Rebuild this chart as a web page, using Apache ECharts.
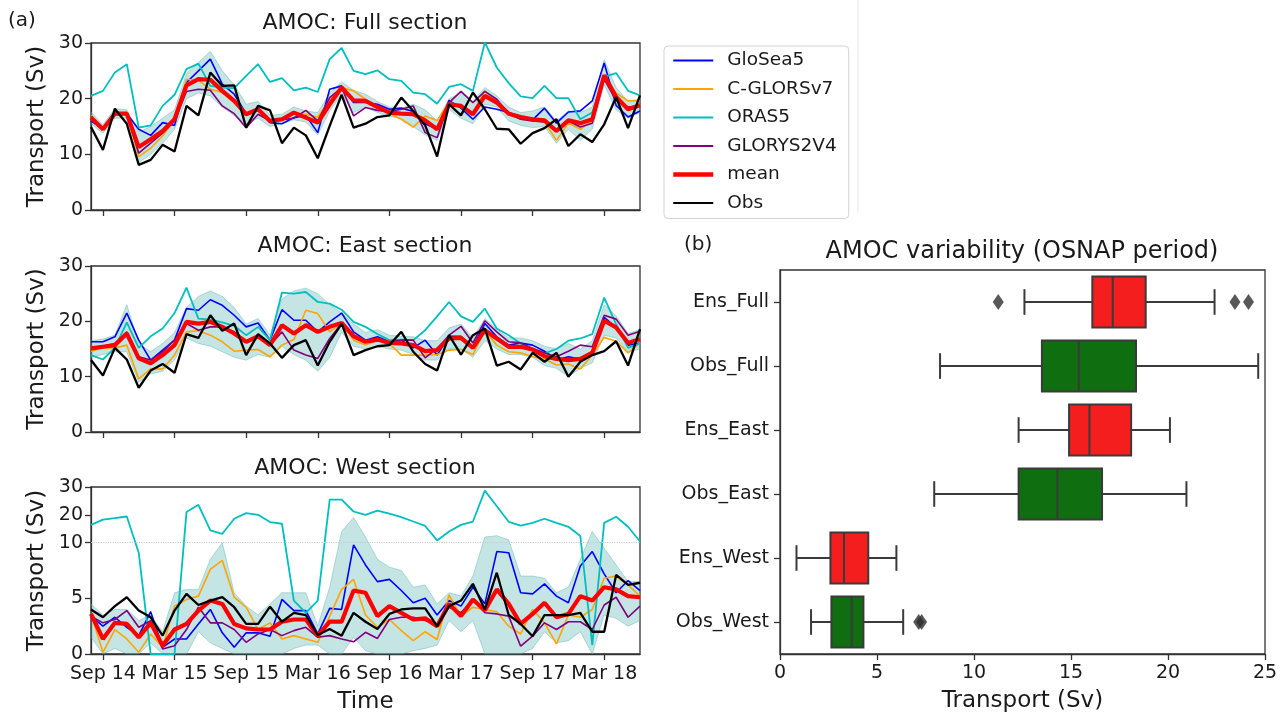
<!DOCTYPE html>
<html>
<head>
<meta charset="utf-8">
<script src="https://cdn.jsdelivr.net/npm/echarts@6/dist/echarts.min.js"></script>
<style>
html,body{margin:0;padding:0;background:#fff;}
#chart{width:1285px;height:718px;}
</style>
</head>
<body>
<div id="chart"></div>
<script>
// ---------------- Data ----------------
const months = ['Aug 14','Sep 14','Oct 14','Nov 14','Dec 14','Jan 15','Feb 15','Mar 15','Apr 15','May 15','Jun 15','Jul 15','Aug 15','Sep 15','Oct 15','Nov 15','Dec 15','Jan 16','Feb 16','Mar 16','Apr 16','May 16','Jun 16','Jul 16','Aug 16','Sep 16','Oct 16','Nov 16','Dec 16','Jan 17','Feb 17','Mar 17','Apr 17','May 17','Jun 17','Jul 17','Aug 17','Sep 17','Oct 17','Nov 17','Dec 17','Jan 18','Feb 18','Mar 18','Apr 18','May 18','Jun 18'];
const xTickLabels = ['Sep 14','Mar 15','Sep 15','Mar 16','Sep 16','Mar 17','Sep 17','Mar 18'];
const seriesNames = ['GloSea5','C-GLORSv7','ORAS5','GLORYS2V4','mean','Obs'];
const westTickLabels = [0, 5, 10, 20, 30];

// Full section
const fullGloSea5 = [16.0,14.5,17.3,17.3,14.5,13.4,15.7,15.2,22.9,25.0,27.1,22.6,20.8,17.3,18.1,15.7,15.5,16.6,17.0,13.9,21.7,22.3,19.3,19.3,19.0,18.1,18.3,17.7,15.5,14.5,19.7,18.3,16.3,18.5,18.1,17.5,16.8,16.2,18.3,15.6,17.6,17.8,19.6,26.4,18.8,16.7,17.8];
const fullCGLORS = [17.0,14.5,17.5,17.3,9.6,11.1,13.3,16.3,23.5,23.3,21.7,21.1,19.3,17.2,17.9,16.0,16.0,17.5,17.2,16.7,19.7,22.0,21.4,19.9,18.4,17.3,16.3,14.9,16.9,16.1,19.3,18.7,17.5,21.4,19.3,17.2,16.3,16.0,15.8,12.5,15.6,14.5,16.0,24.0,21.0,19.6,19.7];
const fullORAS5 = [20.5,21.4,24.7,26.2,14.8,15.2,18.7,20.7,25.3,26.3,22.3,22.0,21.9,24.1,26.2,23.0,23.7,21.5,22.0,21.2,27.1,29.1,25.0,24.4,25.1,23.5,23.2,21.1,20.8,19.1,22.1,22.6,21.4,30.1,25.6,22.8,20.4,20.1,22.3,20.1,20.1,16.3,17.5,23.9,24.6,21.4,20.6];
const fullGLORYS = [16.8,14.6,17.6,17.3,10.2,12.0,13.8,16.0,21.3,21.7,21.5,18.7,17.3,14.8,17.2,16.0,16.2,16.5,17.9,16.0,20.2,22.0,16.9,18.4,17.9,17.7,18.1,18.7,13.9,13.0,19.3,21.3,19.3,21.3,19.9,17.3,16.3,16.0,15.8,14.5,16.0,14.9,15.6,23.5,19.6,18.5,18.7];
const fullMean = [16.6,14.5,17.3,17.3,11.3,12.7,14.2,16.3,22.4,23.5,23.4,21.4,19.6,17.2,18.1,16.0,16.3,17.5,16.6,15.7,19.0,22.0,19.7,19.6,18.5,17.5,17.3,17.2,16.1,14.5,19.0,18.7,17.2,20.5,19.3,17.3,16.7,16.3,16.1,14.2,16.1,15.6,16.3,24.2,20.3,18.1,18.8];
const fullObs = [14.9,10.8,18.2,15.5,8.1,9.0,11.7,10.5,18.7,17.0,24.7,22.3,22.4,14.8,18.7,17.9,12.0,14.8,13.4,9.3,15.1,20.7,14.8,15.5,16.7,17.0,20.2,17.8,15.2,9.6,19.0,17.0,21.1,18.1,14.6,14.5,11.9,13.8,14.7,16.3,11.5,13.6,12.2,15.4,20.3,14.7,20.6];
const fullBandLo = [15.5,13.8,16.5,16.5,8.5,10.0,12.0,14.5,20.0,21.0,20.5,18.5,17.0,15.5,16.5,15.0,15.5,16.2,15.8,13.5,17.8,20.8,17.5,18.5,17.5,16.8,16.5,15.0,13.5,12.5,18.0,16.5,15.5,19.0,18.5,16.0,15.2,14.8,15.0,12.0,14.5,12.5,14.5,22.5,18.0,16.5,17.5];
const fullBandHi = [17.6,15.3,18.2,18.0,14.0,15.0,16.5,18.0,24.5,26.5,28.5,25.0,22.5,19.0,19.5,17.0,17.2,18.5,17.8,17.5,21.0,23.0,21.5,20.8,19.5,18.5,18.3,19.0,18.0,16.0,20.0,21.0,19.5,22.0,20.5,18.5,17.5,17.8,18.5,16.0,17.8,17.5,18.5,27.0,22.0,19.5,19.8];

// East section
const eastGloSea5 = [16.3,16.3,17.2,21.5,16.6,13.0,14.8,16.6,22.3,22.0,23.9,22.9,21.1,19.0,19.7,16.6,22.1,20.2,20.2,18.1,19.9,21.5,18.1,16.6,17.2,16.3,16.6,15.2,16.6,13.9,17.3,17.3,15.4,19.6,17.2,15.7,16.1,15.7,14.6,13.0,13.6,13.2,14.6,20.7,18.9,15.7,16.1];
const eastCGLORS = [14.6,15.2,15.2,15.7,9.6,11.4,11.4,13.9,18.1,18.3,17.5,16.3,14.6,14.8,14.9,13.6,15.7,16.7,22.0,21.4,18.1,19.7,16.6,15.7,16.6,16.0,13.9,13.9,13.9,14.0,14.8,14.9,14.0,18.3,15.7,14.5,14.3,13.6,13.2,12.1,12.3,11.4,13.9,17.1,16.4,14.3,16.1];
const eastORAS5 = [13.9,13.1,15.2,19.8,15.2,17.3,18.7,21.5,26.1,20.5,20.3,19.8,19.2,17.5,19.0,16.6,25.2,25.0,25.3,23.5,23.2,22.1,19.9,19.0,17.7,16.6,16.7,16.6,18.4,20.9,23.5,20.9,19.9,22.3,18.7,17.5,16.0,15.0,14.2,15.0,16.5,16.9,17.7,24.3,19.5,15.2,16.0];
const eastGLORYS = [15.0,15.5,16.0,18.1,13.6,13.0,14.5,16.6,19.6,18.4,19.0,19.0,18.1,16.3,17.2,15.7,18.1,14.8,13.9,13.3,16.9,19.6,17.5,16.3,16.6,16.3,16.6,16.6,13.4,15.1,17.5,19.1,16.1,20.1,18.1,16.3,16.1,15.1,14.3,13.6,14.6,15.7,15.4,21.1,20.4,17.5,18.2];
const eastMean = [15.1,15.4,15.7,17.8,13.3,12.4,13.9,15.7,19.9,19.6,19.9,19.0,17.8,16.3,17.3,15.7,19.3,17.8,19.3,18.1,19.0,19.7,17.3,16.3,16.7,16.1,16.0,15.7,14.6,14.8,16.9,17.0,15.2,18.4,16.9,15.4,15.4,14.9,13.7,13.2,13.0,13.2,14.3,20.1,18.9,16.1,16.8];
const eastObs = [13.0,10.2,15.2,13.1,8.0,11.1,12.3,10.7,17.7,17.0,21.1,18.3,19.6,13.9,17.7,16.0,13.4,15.7,16.6,12.0,16.3,19.6,13.9,14.8,15.5,15.7,18.1,14.5,12.3,11.1,17.5,14.0,17.5,18.7,12.0,12.7,11.3,14.3,12.7,14.3,10.0,12.7,13.9,14.6,16.4,12.0,18.6];
const eastBandLo = [13.5,14.0,14.5,14.5,9.0,10.5,11.0,13.0,17.0,16.0,15.5,14.5,13.5,13.0,14.0,13.5,15.5,14.0,13.0,11.0,13.5,18.0,15.5,15.0,15.5,15.0,14.8,14.0,13.0,13.0,15.0,15.0,13.5,16.5,15.0,14.0,14.0,13.5,12.0,11.5,10.0,11.5,12.5,17.5,17.0,14.5,15.0];
const eastBandHi = [16.5,16.8,17.5,23.0,16.0,14.5,16.0,18.0,22.5,24.5,25.5,24.5,22.5,19.5,20.5,17.5,24.0,25.5,26.0,25.0,23.0,21.5,19.5,18.0,18.5,17.5,17.3,17.2,16.5,16.5,18.8,19.5,17.0,20.5,18.5,17.0,17.0,16.5,15.5,15.0,16.0,15.0,16.5,23.0,21.0,17.8,18.5];

// West section
const westGloSea5 = [3.4,2.5,3.3,2.4,1.65,3.8,0.6,1.35,1.35,2.7,4.0,1.9,0.6,1.9,1.9,1.6,4.9,3.9,3.9,1.8,4.1,4.0,9.8,8.0,6.5,6.7,5.7,4.6,5.0,3.5,4.8,4.3,6.0,4.5,9.2,9.1,5.5,5.4,6.3,5.2,4.6,7.9,9.2,7.2,5.5,6.6,5.7];
const westCGLORS = [3.6,0.15,2.2,1.35,0.15,1.8,0.6,4.3,4.9,5.2,7.6,8.4,5.1,4.2,2.2,2.8,1.35,1.65,1.35,1.05,3.4,5.8,6.7,3.5,2.4,3.1,2.1,1.2,2.0,1.3,5.3,3.4,4.2,4.0,3.8,2.5,1.8,4.0,2.8,0.9,3.5,3.3,4.0,6.8,7.0,6.2,5.2];
const westORAS5 = [16.4,18.3,18.8,19.4,9.1,0,0,0,21.0,23.6,14.4,13.2,18.6,20.6,20.0,17.4,16.8,4.8,3.7,4.8,25.5,25.5,21.2,20.0,21.5,20.4,19.2,17.6,16.0,10.8,14.0,16.4,17.6,28.7,23.1,17.5,16.1,17.1,18.6,17.1,15.7,12.4,0.8,17.1,19.3,15.7,10.4];
const westGLORYS = [3.4,2.8,3.1,3.9,2.4,3.0,0.45,0.75,2.2,4.2,2.8,2.8,2.2,1.05,1.8,2.2,1.65,2.1,2.4,1.5,1.65,1.35,1.1,1.95,1.4,3.1,3.3,3.3,3.0,2.7,4.2,3.7,4.9,3.7,3.6,3.4,0.7,1.6,2.8,2.2,2.9,2.9,2.2,4.4,5.1,3.3,4.3];
const westMean = [3.6,1.35,2.8,2.7,1.5,2.8,0.75,2.2,2.7,3.9,4.8,4.5,2.7,2.3,2.2,2.2,2.9,3.1,3.1,1.65,2.9,2.9,5.7,5.5,3.4,4.3,3.7,3.1,3.2,2.5,4.5,3.4,4.9,3.9,5.8,4.5,2.7,3.6,4.6,3.3,3.6,5.2,4.8,6.0,5.8,5.2,5.1];
const westObs = [4.0,3.3,4.3,5.1,3.9,3.3,1.65,3.9,5.4,4.4,4.8,5.1,4.2,2.7,2.7,4.25,2.9,3.7,3.5,1.7,2.25,1.65,3.7,2.9,2.25,3.6,4.0,4.1,4.1,2.5,4.3,4.8,6.3,4.0,7.3,3.5,2.7,1.6,3.5,3.5,3.5,3.7,2.0,2.0,7.1,6.2,6.4];
const westBandLo = [1.5,0,0.5,0,0,1.0,0,0,0,2.0,1.0,0.5,0,0,0,0,0,0.5,0.8,0.8,0,0,1.5,0.3,0,0,0,0.3,0.5,0.8,3.0,2.0,3.0,0,0,0,0,0.5,2.0,1.0,1.2,2.0,0,3.5,3.2,2.5,3.0];
const westBandHi = [4.5,3.5,4.0,4.0,3.0,3.5,2.0,5.5,5.8,5.8,8.5,10.0,5.5,4.3,3.5,4.5,5.5,5.5,5.5,2.5,6.0,14.0,19.0,12.0,8.5,7.8,7.5,6.0,6.2,4.5,5.5,5.2,7.0,12.0,12.5,11.0,7.0,7.0,6.8,5.5,6.0,8.5,14.0,9.5,8.0,6.5,6.5];

// Box plot statistics (panel b)
const boxCats = ['Ens_Full','Obs_Full','Ens_East','Obs_East','Ens_West','Obs_West'];
const boxLow  = [12.6, 8.25, 12.3, 7.95, 0.85, 1.6];
const boxQ1   = [16.1, 13.5, 14.9, 12.3, 2.6, 2.65];
const boxMed  = [17.15, 15.4, 15.95, 14.3, 3.3, 3.7];
const boxQ3   = [18.85, 18.35, 18.1, 16.6, 4.55, 4.3];
const boxHigh = [22.4, 24.65, 20.1, 20.95, 6.0, 6.35];
const outlierCats = ['Ens_Full','Ens_Full','Ens_Full','Obs_West','Obs_West'];
const outlierVals = [11.25, 23.45, 24.15, 7.15, 7.3];

// ---------------- Chart ----------------
const FONT = 'DejaVu Sans';
const TXT = '#1a1a1a';
const FRAME = '#333333';
const colors = {GloSea5:'#0000ff','C-GLORSv7':'#ffa500',ORAS5:'#00bfbf',GLORYS2V4:'#800080',mean:'#ff0000',Obs:'#000000'};
const widths = {GloSea5:1.6,'C-GLORSv7':1.6,ORAS5:1.8,GLORYS2V4:1.6,mean:4.2,Obs:2.3};
const bandFill = 'rgba(95,180,180,0.36)';
const bandEdge = 'rgba(95,180,180,0.45)';

// broken axis transform for the West section (0-10 linear, 10-30 compressed)
const tw = v => v <= 10 ? v : 10 + (v - 10) / 4;
const twInv = v => v <= 10 ? v : 10 + (v - 10) * 4;

const panels = [
  {title:'AMOC: Full section', d:[fullGloSea5,fullCGLORS,fullORAS5,fullGLORYS,fullMean,fullObs], lo:fullBandLo, hi:fullBandHi, west:false, top:43, h:167, ty:23},
  {title:'AMOC: East section', d:[eastGloSea5,eastCGLORS,eastORAS5,eastGLORYS,eastMean,eastObs], lo:eastBandLo, hi:eastBandHi, west:false, top:266, h:166, ty:246},
  {title:'AMOC: West section', d:[westGloSea5,westCGLORS,westORAS5,westGLORYS,westMean,westObs], lo:westBandLo, hi:westBandHi, west:true, top:487, h:167, ty:468}
];

const grids = [], xAxes = [], yAxes = [], series = [], graphics = [];
const tickFn = (idx, val) => xTickLabels.indexOf(val) >= 0;

panels.forEach((p, i) => {
  const f = p.west ? tw : (v => v);
  grids.push({left:91, top:p.top, width:549, height:p.h, show:true, borderColor:FRAME, borderWidth:1.3, backgroundColor:'transparent'});
  xAxes.push({
    gridIndex:i, type:'category', data:months, boundaryGap:false,
    axisLine:{show:true, lineStyle:{color:FRAME, width:1.3}},
    axisTick:{show:true, interval:tickFn, length:6, lineStyle:{color:FRAME, width:1.3}},
    axisLabel:{show:i===2, interval:tickFn, fontSize:19, fontFamily:FONT, color:TXT, margin:11},
    splitLine:{show:false},
    name: i===2 ? 'Time' : '', nameLocation:'middle', nameGap:37,
    nameTextStyle:{fontSize:23, fontFamily:FONT, color:TXT}
  });
  const y = {
    gridIndex:i, type:'value', min:0, max: p.west ? tw(30) : 30,
    axisLine:{show:true, lineStyle:{color:FRAME, width:1.3}},
    axisTick:{show:true, length:6, lineStyle:{color:FRAME, width:1.3}},
    axisLabel:{fontSize:19, fontFamily:FONT, color:TXT, margin:8},
    splitLine:{show:false},
    name:'Transport (Sv)', nameLocation:'middle', nameGap:42,
    nameTextStyle:{fontSize:23, fontFamily:FONT, color:TXT}
  };
  if (p.west) {
    const cv = westTickLabels.map(tw);
    y.axisTick.customValues = cv;
    y.axisLabel.customValues = cv;
    y.axisLabel.formatter = v => String(Math.round(twInv(v)));
  } else {
    y.interval = 10;
  }
  yAxes.push(y);

  // shaded ensemble band (stacked: lower bound + thickness)
  const loSeries = {
    type:'line', name:'band'+i+'lo', xAxisIndex:i, yAxisIndex:i, stack:'band'+i,
    data:p.lo.map(f), symbol:'none', silent:true,
    lineStyle:{width:1, color:bandEdge}, z:1
  };
  if (p.west) {
    loSeries.markLine = {silent:true, symbol:['none','none'], label:{show:false},
      lineStyle:{color:'#c8c8c8', type:'dotted', width:1.2}, data:[{yAxis:tw(10)}]};
  }
  series.push(loSeries);
  series.push({
    type:'line', name:'band'+i+'hi', xAxisIndex:i, yAxisIndex:i, stack:'band'+i,
    data:p.hi.map((v,k) => f(v) - f(p.lo[k])), symbol:'none', silent:true,
    lineStyle:{width:1, color:bandEdge}, areaStyle:{color:bandFill, opacity:1}, z:1
  });
  seriesNames.forEach((nm, k) => {
    series.push({
      type:'line', name:nm, xAxisIndex:i, yAxisIndex:i,
      data:p.d[k].map(f), symbol:'none', silent:true,
      lineStyle:{width:widths[nm], color:colors[nm]}, itemStyle:{color:colors[nm]}, z:2+k
    });
  });
  graphics.push({type:'text', x:365, y:p.ty, style:{text:p.title, fontSize:22, fontFamily:FONT, fill:TXT, align:'center', verticalAlign:'middle'}});
});

// Box plot panel (b)
grids.push({left:780, top:270, width:485, height:385, show:true, borderColor:FRAME, borderWidth:1.3, backgroundColor:'transparent'});
xAxes.push({
  gridIndex:3, type:'value', min:0, max:25, interval:5,
  axisLine:{show:true, lineStyle:{color:FRAME, width:1.3}},
  axisTick:{show:true, length:6, lineStyle:{color:FRAME, width:1.3}},
  axisLabel:{fontSize:19, fontFamily:FONT, color:TXT, margin:10},
  splitLine:{show:false},
  name:'Transport (Sv)', nameLocation:'middle', nameGap:36,
  nameTextStyle:{fontSize:23, fontFamily:FONT, color:TXT}
});
yAxes.push({
  gridIndex:3, type:'category', data:boxCats, inverse:true,
  axisLine:{show:true, lineStyle:{color:FRAME, width:1.3}},
  axisTick:{show:true, alignWithLabel:true, length:6, lineStyle:{color:FRAME, width:1.3}},
  axisLabel:{fontSize:19, fontFamily:FONT, color:TXT, margin:11},
  splitLine:{show:false}
});

const boxEdge = '#3a3a3a';
const boxData = boxCats.map((c, k) => [k, boxLow[k], boxQ1[k], boxMed[k], boxQ3[k], boxHigh[k]]);
series.push({
  type:'custom', name:'boxes', xAxisIndex:3, yAxisIndex:3, silent:true,
  encode:{x:[1,2,3,4,5], y:0},
  data:boxData,
  renderItem:(params, api) => {
    const ci = api.value(0);
    const pLow = api.coord([api.value(1), ci]);
    const pQ1 = api.coord([api.value(2), ci]);
    const pMed = api.coord([api.value(3), ci]);
    const pQ3 = api.coord([api.value(4), ci]);
    const pHigh = api.coord([api.value(5), ci]);
    const band = api.size([0, 1])[1];
    const h = band * 0.4, c = band * 0.2, yc = pLow[1];
    const fill = boxCats[ci].indexOf('Ens') === 0 ? '#f41e1e' : '#0f6e0f';
    const ls = {stroke:boxEdge, lineWidth:2};
    return {type:'group', children:[
      {type:'line', shape:{x1:pLow[0], y1:yc, x2:pQ1[0], y2:yc}, style:ls},
      {type:'line', shape:{x1:pQ3[0], y1:yc, x2:pHigh[0], y2:yc}, style:ls},
      {type:'line', shape:{x1:pLow[0], y1:yc-c, x2:pLow[0], y2:yc+c}, style:ls},
      {type:'line', shape:{x1:pHigh[0], y1:yc-c, x2:pHigh[0], y2:yc+c}, style:ls},
      {type:'rect', shape:{x:pQ1[0], y:yc-h, width:pQ3[0]-pQ1[0], height:2*h}, style:{fill:fill, stroke:boxEdge, lineWidth:2}},
      {type:'line', shape:{x1:pMed[0], y1:yc-h, x2:pMed[0], y2:yc+h}, style:ls}
    ]};
  }
});
series.push({
  type:'scatter', name:'outliers', xAxisIndex:3, yAxisIndex:3, silent:true,
  symbol:'diamond', symbolSize:[11,16],
  itemStyle:{color:'#2e2e2e'},
  data:outlierVals.map((v, k) => [v, outlierCats[k]])
});

graphics.push({type:'text', x:8, y:21, style:{text:'(a)', fontSize:20, fontFamily:FONT, fill:TXT, align:'left', verticalAlign:'middle'}});
graphics.push({type:'text', x:684, y:245, style:{text:'(b)', fontSize:20, fontFamily:FONT, fill:TXT, align:'left', verticalAlign:'middle'}});
graphics.push({type:'text', x:1022, y:252, style:{text:'AMOC variability (OSNAP period)', fontSize:24, fontFamily:FONT, fill:TXT, align:'center', verticalAlign:'middle'}});
graphics.push({type:'line', shape:{x1:858, y1:0, x2:858, y2:212}, style:{stroke:'#e6e6e6', lineWidth:1}});

const option = {
  animation:false,
  backgroundColor:'#ffffff',
  textStyle:{fontFamily:FONT},
  grid:grids, xAxis:xAxes, yAxis:yAxes,
  legend:{
    data:seriesNames.map(nm => ({name:nm, lineStyle:{width: nm === 'mean' ? 4.5 : 2, color:colors[nm]}})),
    orient:'vertical', left:664, top:46,
    padding:[5,12,6,7], itemGap:9.5, itemWidth:40, itemHeight:14,
    borderColor:'#d4d4d4', borderWidth:1, borderRadius:4,
    selectedMode:false,
    itemStyle:{opacity:0},
    textStyle:{fontSize:18.5, fontFamily:FONT, color:TXT, padding:[0,0,0,9]}
  },
  graphic:graphics,
  series:series
};

const chart = echarts.init(document.getElementById('chart'), null, {renderer:'canvas'});
chart.setOption(option);
</script>
</body>
</html>
